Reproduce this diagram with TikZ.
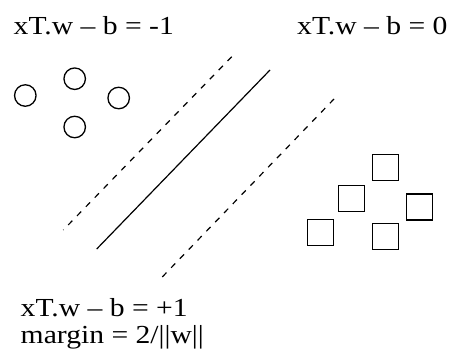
\documentclass[tikz,border=0pt]{standalone}
\usepackage{fontspec}
\setmainfont[FakeStretch=1.14]{Liberation Serif}
\usetikzlibrary{positioning}
\tikzset{
  classa/.style={draw, circle, line width=1.3pt, minimum size=21.5pt, inner sep=0pt},
  classb/.style={draw, rectangle, line width=1.3pt, minimum size=26pt, inner sep=0pt},
  hyperline/.style={line width=1.2pt},
  marginline/.style={line width=1.2pt, dash pattern=on 6pt off 6.7pt},
  eqlabel/.style={font=\fontsize{26}{27.3}\selectfont, inner sep=0pt, anchor=base west, align=left}
}
\begin{document}
\begin{tikzpicture}[x=1pt, y=-1pt]
  \useasboundingbox (0,0) rectangle (452,354);
  % labels
  \node[eqlabel] (eqneg) at (13.5,34.3) {xT.w -- b = -1};
  \node[eqlabel] (eqzero) at (297,34.3) {xT.w -- b = 0};
  \node[eqlabel] (eqpos) at (20.5,343.3) {xT.w -- b = +1\\margin = 2/||w||};
  % circles
  \node[classa] (c1) at (25.3,95.5) {};
  \node[classa] (c2) at (74.7,78.7) {};
  \node[classa] (c3) at (118.7,98) {};
  \node[classa] (c4) at (74.7,127) {};
  % squares
  \node[classb] (s1) at (385.8,167.3) {};
  \node[classb] (s2) at (351.2,198.8) {};
  \node[classb] (s3) at (419.7,207) {};
  \node[classb] (s4) at (320.3,232.5) {};
  \node[classb] (s5) at (385.8,236.3) {};
  % hyperplanes
  \coordinate (h0a) at (270,70);
  \coordinate (h0b) at (96.7,249);
  \coordinate (hla) at (231.7,56.7);
  \coordinate (hlb) at (63.3,230);
  \coordinate (hra) at (334,99);
  \coordinate (hrb) at (160,279.3);
  \draw[hyperline] (h0a) -- (h0b);
  \draw[marginline] (hla) -- (hlb);
  \draw[marginline] (hra) -- (hrb);
\end{tikzpicture}
\end{document}
